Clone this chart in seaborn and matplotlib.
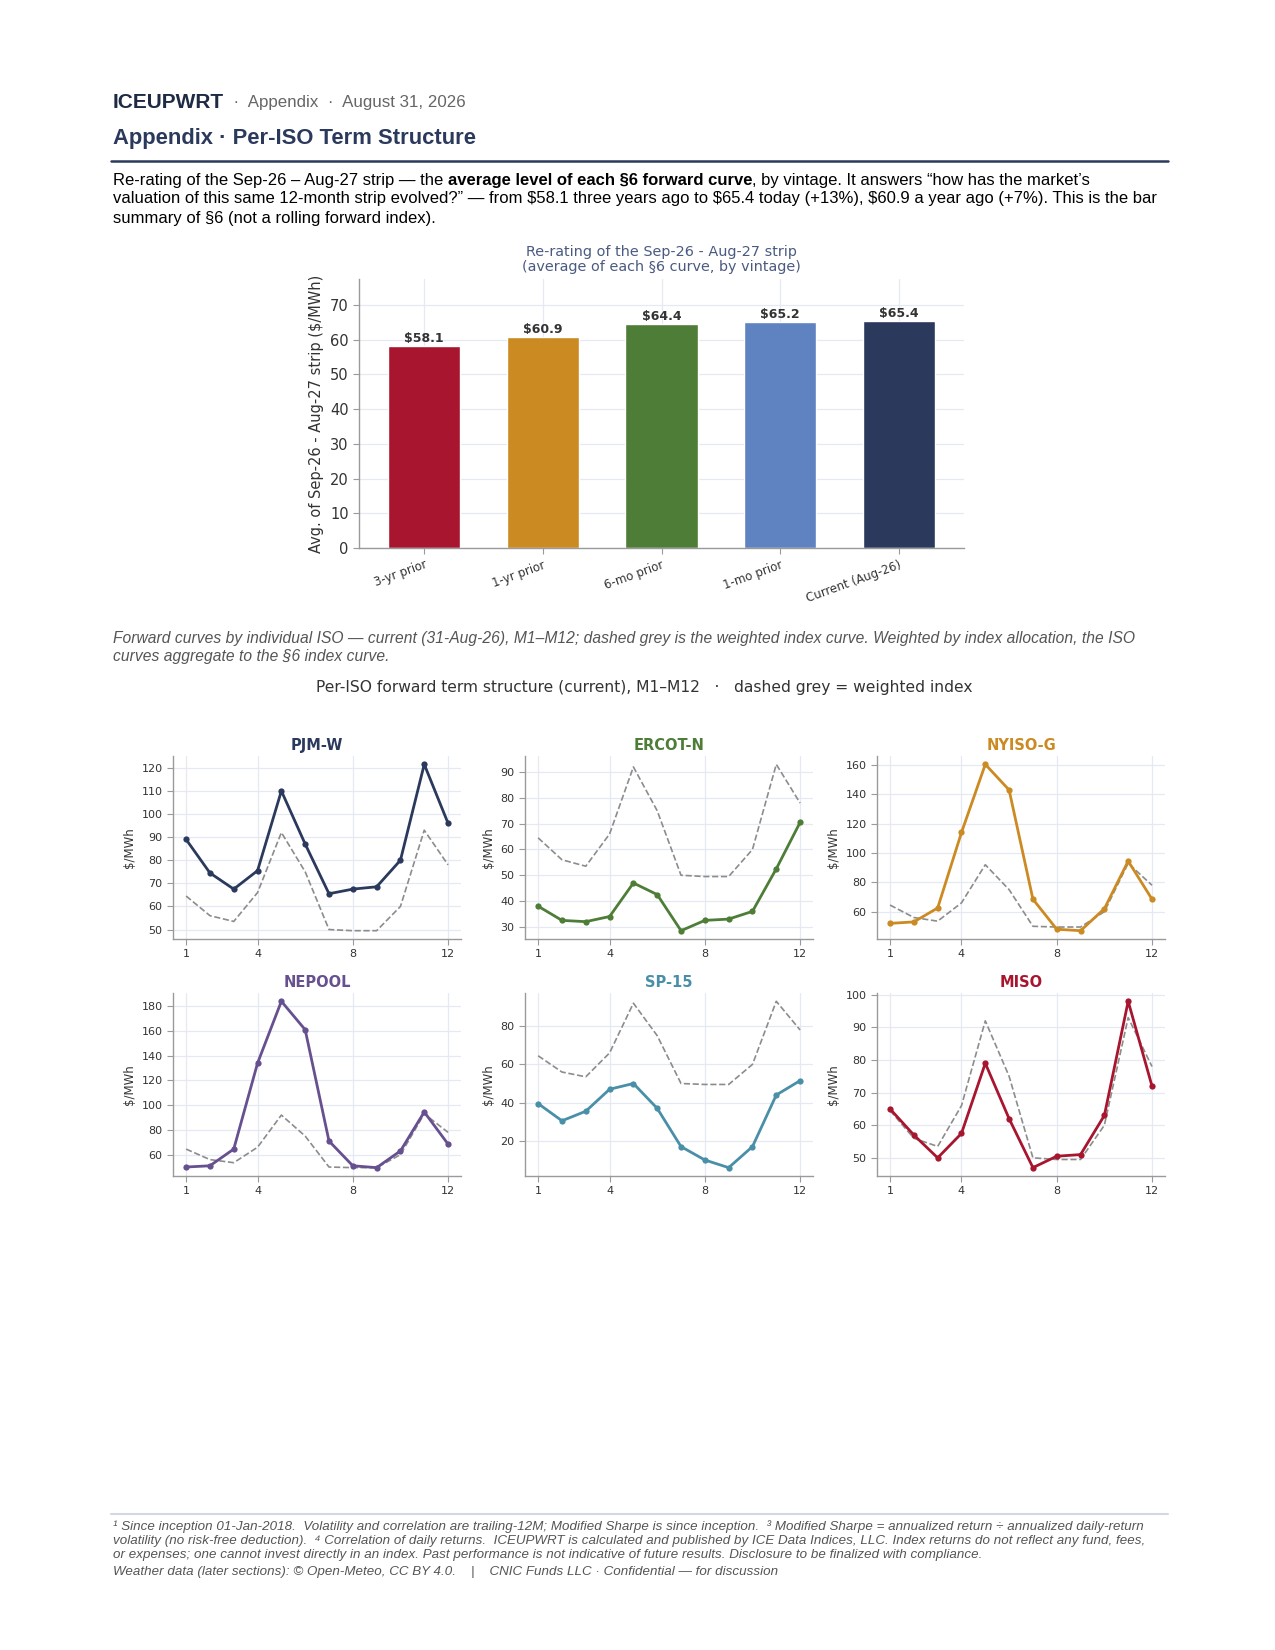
import numpy as np
import pandas as pd
import matplotlib
matplotlib.use("Agg")
import matplotlib.pyplot as plt
from matplotlib.ticker import MultipleLocator
import seaborn as sns

# ── Data ────────────────────────────────────────────────────────────────────
vintages = ["3-yr prior", "1-yr prior", "6-mo prior", "1-mo prior", "Current (Aug-26)"]
strip_avg = [58.1, 60.9, 64.4, 65.2, 65.4]

months = list(range(1, 13))
index_curve = [64.5, 56.0, 53.5, 66.0, 92.0, 75.0, 50.0, 49.5, 49.5, 60.0, 93.0, 78.0]

iso_names = ["PJM-W", "ERCOT-N", "NYISO-G", "NEPOOL", "SP-15", "MISO"]
pjm_w = [89.0, 74.5, 67.5, 75.5, 110.0, 87.0, 65.5, 67.5, 68.5, 80.0, 121.5, 96.0]
ercot_n = [38.0, 32.5, 32.0, 34.0, 47.0, 42.5, 28.5, 32.5, 33.0, 36.0, 52.5, 70.5]
nyiso_g = [52.0, 53.0, 62.5, 114.0, 160.5, 143.0, 68.5, 48.0, 47.0, 62.0, 94.5, 68.5]
nepool = [50.0, 51.0, 64.5, 134.0, 184.0, 161.0, 71.0, 51.0, 49.5, 63.0, 94.5, 68.5]
sp_15 = [39.5, 30.5, 35.5, 47.0, 50.0, 37.0, 17.0, 10.0, 6.0, 17.0, 44.0, 51.5]
miso = [65.0, 57.0, 50.0, 57.5, 79.0, 62.0, 47.0, 50.5, 51.0, 63.0, 98.0, 72.0]
iso_curves = [pjm_w, ercot_n, nyiso_g, nepool, sp_15, miso]

# ── Styling ─────────────────────────────────────────────────────────────────
NAVY = "#2B3A5C"
BAR_COLORS = ["#A8152F", "#CC8A22", "#4E7D38", "#5F82C0", "#2B3A5C"]
ISO_COLORS = ["#2B3A5C", "#4E7D38", "#CC8A22", "#67508F", "#4A8FA8", "#A8152F"]
Y_STEPS = [10, 10, 20, 20, 20, 10]
GRID = "#E6E9F2"
SPINE = "#9A9A9A"
SANS = "Liberation Sans"

sns.set_theme(style="whitegrid")
plt.rcParams["font.family"] = ["DejaVu Sans"]
plt.rcParams["grid.color"] = GRID
plt.rcParams["axes.edgecolor"] = SPINE


def style_axes(ax, tick_size):
    ax.set_facecolor("white")
    for side in ("top", "right"):
        ax.spines[side].set_visible(False)
    for side in ("left", "bottom"):
        ax.spines[side].set_color(SPINE)
        ax.spines[side].set_linewidth(1.0)
    ax.tick_params(axis="both", which="major", length=4, width=0.8,
                   color=SPINE, labelsize=tick_size, labelcolor="#333333",
                   bottom=True, left=True)
    ax.grid(True, color=GRID, linewidth=0.9)
    ax.set_axisbelow(True)


def draw_runs(fig, x, y, runs, renderer):
    """Place text runs one after another on a single line."""
    for txt, kw in runs:
        t = fig.text(x, y, txt, va="center", ha="left", **kw)
        bb = t.get_window_extent(renderer)
        x += bb.width / fig.bbox.width
    return x


fig = plt.figure(figsize=(12.75, 16.5), dpi=100)
fig.patch.set_facecolor("white")
renderer = fig.canvas.get_renderer()

# ── Header ──────────────────────────────────────────────────────────────────
draw_runs(fig, 0.0886, 0.9376, [
    ("ICEUPWRT", dict(fontsize=15, fontweight="bold", color="#1F2A44", family=SANS)),
    ("  ·  Appendix  ·  August 31, 2026", dict(fontsize=12.2, color="#666666", family=SANS)),
], renderer)
fig.text(0.0886, 0.9158, "Appendix · Per-ISO Term Structure", fontsize=15.8,
         fontweight="bold", color=NAVY, family=SANS, va="center")
fig.add_artist(plt.Line2D([0.087, 0.916], [0.9024, 0.9024], color=NAVY, linewidth=1.8))

para = dict(fontsize=12, color="black", family=SANS)
para_b = dict(fontsize=12, color="black", family=SANS, fontweight="bold")
draw_runs(fig, 0.0886, 0.8909, [
    ("Re-rating of the Sep-26 \u2013 Aug-27 strip \u2014 the ", para),
    ("average level of each \u00a76 forward curve", para_b),
    (", by vintage. It answers \u201chow has the market\u2019s", para),
], renderer)
fig.text(0.0886, 0.8794, "valuation of this same 12-month strip evolved?\u201d \u2014 from $58.1 three years ago "
         "to $65.4 today (+13%), $60.9 a year ago (+7%). This is the bar", va="center", **para)
fig.text(0.0886, 0.8673, "summary of \u00a76 (not a rolling forward index).", va="center", **para)

# ── Bar chart: strip re-rating by vintage ──────────────────────────────────
ax_bar = fig.add_axes([0.2816, 0.6679, 0.4745, 0.1630])
sns.barplot(x=vintages, y=strip_avg, hue=vintages, palette=BAR_COLORS,
            saturation=1, width=0.61, legend=False, ax=ax_bar)
style_axes(ax_bar, 10.5)
for i, v in enumerate(strip_avg):
    ax_bar.text(i, v + 0.3, f"${v:.1f}", ha="center", va="bottom",
                fontsize=9, fontweight="bold", color="#333333")
ax_bar.set_ylim(0, 77.5)
ax_bar.set_xlim(-0.55, 4.55)
ax_bar.yaxis.set_major_locator(MultipleLocator(10))
ax_bar.set_ylabel("Avg. of Sep-26 - Aug-27 strip ($/MWh)", fontsize=10.5, color="#333333")
ax_bar.set_xlabel("")
ax_bar.set_title("Re-rating of the Sep-26 - Aug-27 strip\n(average of each \u00a76 curve, by vintage)",
                 fontsize=10.4, color="#4A5A80", pad=6, linespacing=1.05)
for lbl in ax_bar.get_xticklabels():
    lbl.set_rotation(20)
    lbl.set_ha("right")
    lbl.set_rotation_mode("anchor")
    lbl.set_fontsize(8.5)

# ── Caption + small-multiple title ─────────────────────────────────────────
cap = dict(fontsize=11.25, color="#555555", family=SANS, style="italic", va="center")
fig.text(0.0886, 0.6133, "Forward curves by individual ISO \u2014 current (31-Aug-26), M1\u2013M12; dashed grey "
         "is the weighted index curve. Weighted by index allocation, the ISO", **cap)
fig.text(0.0886, 0.6024, "curves aggregate to the \u00a76 index curve.", **cap)
fig.text(0.505, 0.5836, "Per-ISO forward term structure (current), M1\u2013M12   \u00b7   dashed grey = weighted index",
         fontsize=11.15, color="#333333", ha="center", va="center")

# ── Small multiples ─────────────────────────────────────────────────────────
col_left = [0.1357, 0.4118, 0.6878]
row_bottom = [0.4309, 0.2873]
for k, (name, curve, color, step) in enumerate(zip(iso_names, iso_curves, ISO_COLORS, Y_STEPS)):
    r, c = divmod(k, 3)
    ax = fig.add_axes([col_left[c], row_bottom[r], 0.2260, 0.1109])
    df = pd.DataFrame({"month": months, "index": index_curve, "iso": curve})
    sns.lineplot(data=df, x="month", y="index", color="#8C8C8C", linestyle="--",
                 linewidth=1.2, ax=ax, zorder=2)
    sns.lineplot(data=df, x="month", y="iso", color=color, linewidth=2.0, marker="o",
                 markersize=4.5, markeredgewidth=0, ax=ax, zorder=3)
    style_axes(ax, 8)
    ax.set_xticks([1, 4, 8, 12])
    ax.yaxis.set_major_locator(MultipleLocator(step))
    ax.set_xlabel("")
    ax.set_ylabel("$/MWh", fontsize=8.5, color="#333333")
    ax.set_title(name, fontsize=10.5, fontweight="bold", color=color, pad=4)

# ── Footer ──────────────────────────────────────────────────────────────────
fig.add_artist(plt.Line2D([0.087, 0.916], [0.0824, 0.0824], color="#D3D8E0", linewidth=1.5))
foot = dict(fontsize=9.6, color="#555555", family=SANS, style="italic", va="center")
fig.text(0.0886, 0.0745, "\u00b9 Since inception 01-Jan-2018.  Volatility and correlation are trailing-12M; "
         "Modified Sharpe is since inception.  \u00b3 Modified Sharpe = annualized return \u00f7 annualized daily-return", **foot)
fig.text(0.0886, 0.0661, "volatility (no risk-free deduction).  \u2074 Correlation of daily returns.  ICEUPWRT is "
         "calculated and published by ICE Data Indices, LLC. Index returns do not reflect any fund, fees,", **foot)
fig.text(0.0886, 0.0576, "or expenses; one cannot invest directly in an index. Past performance is not indicative "
         "of future results. Disclosure to be finalized with compliance.", **foot)
fig.text(0.0886, 0.0473, "Weather data (later sections): \u00a9 Open-Meteo, CC BY 4.0.    |    "
         "CNIC Funds LLC \u00b7 Confidential \u2014 for discussion", **foot)

fig.savefig("out.png", dpi=100, facecolor="white")
